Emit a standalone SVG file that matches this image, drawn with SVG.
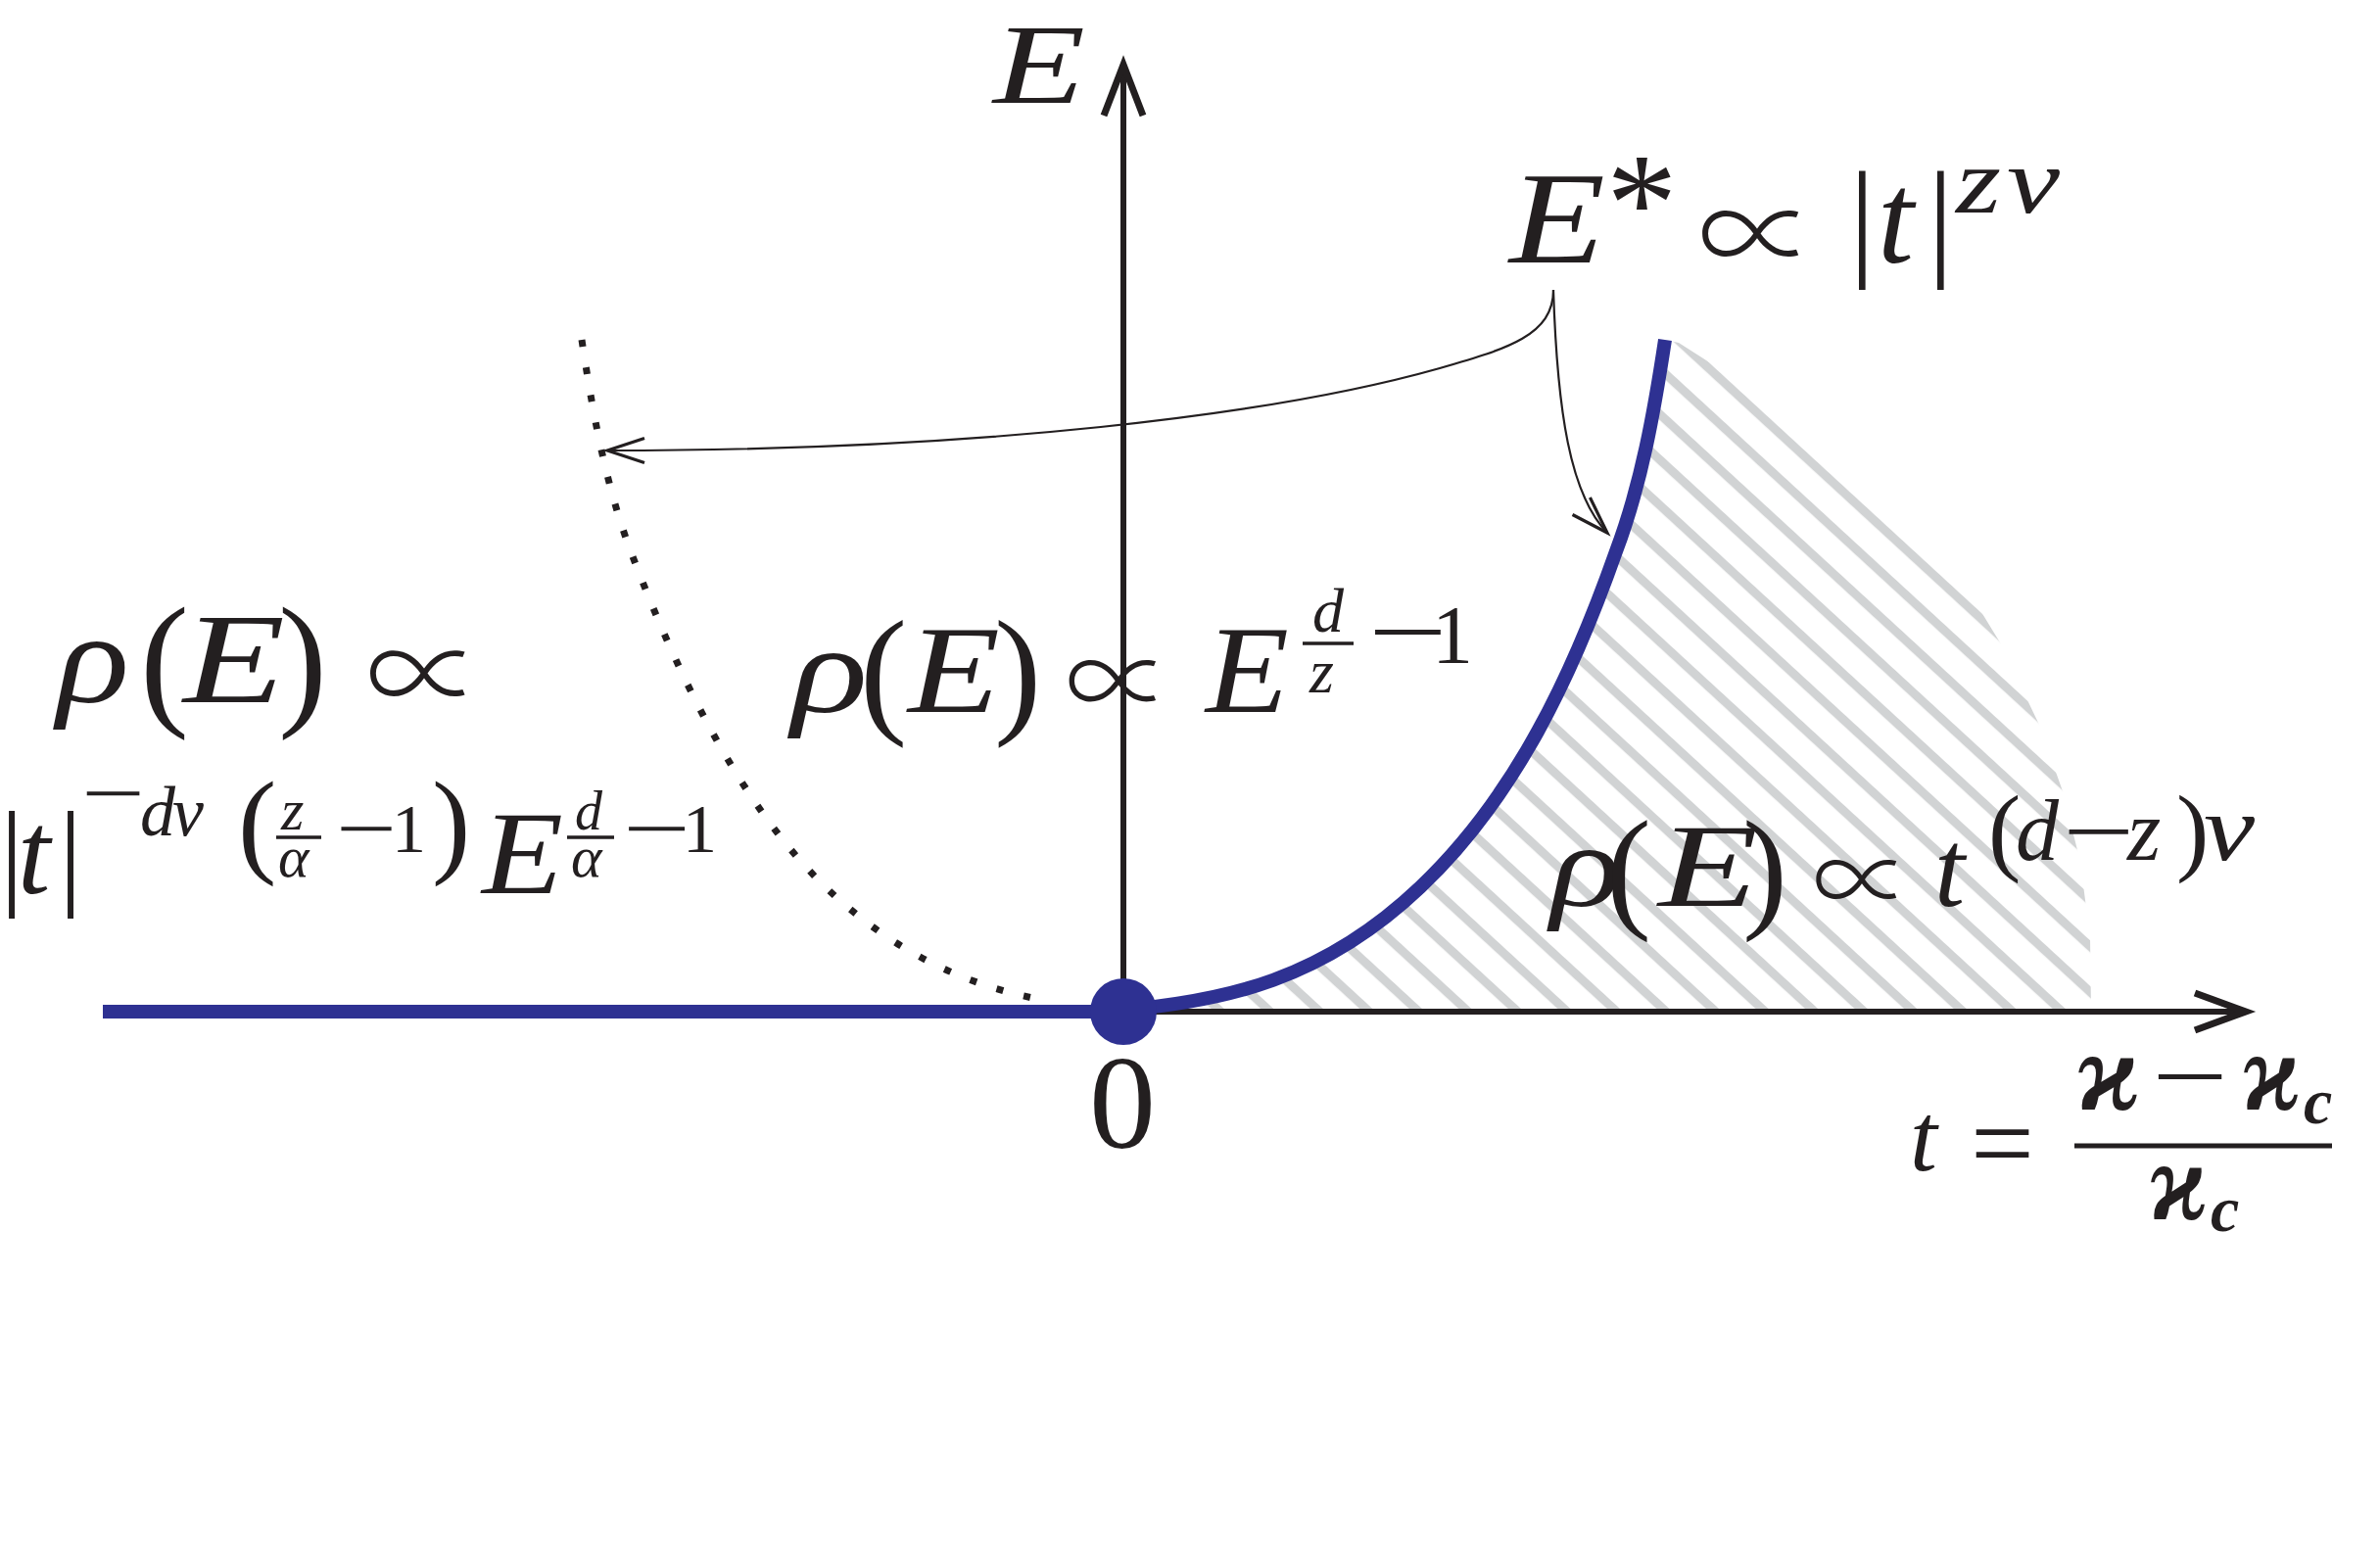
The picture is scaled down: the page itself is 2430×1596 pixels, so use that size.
<svg xmlns="http://www.w3.org/2000/svg" width="2430" height="1596" viewBox="0 0 2430 1596">
<style>
.m{font-family:"Liberation Serif","DejaVu Serif",serif;fill:#231f20}
.i{font-style:italic}
.b{font-weight:bold}
.p{font-family:"Noto Sans CJK SC","DejaVu Sans",sans-serif;font-weight:300;font-style:normal}
.ax{stroke:#231f20;stroke-width:6;fill:none}
.ah{stroke:#231f20;stroke-width:7;fill:none;stroke-linejoin:miter}
.blue{stroke:#2e3192;stroke-width:14;fill:none}
.con{stroke:#231f20;stroke-width:2.2;fill:none}
.fb{stroke:#231f20;stroke-width:3.5}
</style>
<defs>
<pattern id="hatch" patternUnits="userSpaceOnUse" width="40" height="34.2" patternTransform="rotate(42.6) translate(0,14.8)">
<rect x="0" y="0" width="40" height="9" fill="#d1d3d4"/>
</pattern>
<clipPath id="hclip">
<path d="M1150,1031 C1250,1022 1350,1001 1450,906 C1548,813 1606,688 1650,563 C1676,494 1689,420 1700,347 L1714,350 L1750,373 L2020,620 L2042,656 L2082,740 L2106,808 L2124,880 L2134,958 L2135,1031 Z"/>
</clipPath>
<marker id="arr" markerUnits="userSpaceOnUse" viewBox="-45 -18 50 36" refX="0" refY="0" markerWidth="50" markerHeight="36" orient="auto">
<path d="M-38,-12.5 L0,0 L-38,12.5" fill="none" stroke="#231f20" stroke-width="3.2"/>
</marker>
</defs>
<rect width="2430" height="1596" fill="#ffffff"/>

<g id="hatch-region">
<rect x="1100" y="300" width="1100" height="760" fill="url(#hatch)" clip-path="url(#hclip)"/>
</g>

<g id="axes">
<line class="ax" x1="1147" y1="1033" x2="1147" y2="66"/>
<polyline class="ah" points="1127,118 1147,66 1167,118"/>
<line class="ax" x1="1147" y1="1033" x2="2293" y2="1033"/>
<polyline class="ah" points="2241,1014 2293,1033 2241,1052"/>
</g>

<g id="dotted-curve">
<path d="M594,347 C605,420 618,494 644,563 C691,687 754,820 844,907 C919,978 994,1008 1069,1022" fill="none" stroke="#231f20" stroke-width="7" stroke-dasharray="7 21.5"/>
</g>

<g id="blue-line">
<line class="blue" x1="105" y1="1033" x2="1147" y2="1033"/>
</g>
<g id="blue-curve">
<path class="blue" d="M1150,1031 C1250,1022 1350,1001 1450,906 C1548,813 1606,688 1650,563 C1676,494 1689,420 1700,347"/>
</g>
<g id="origin-dot">
<circle cx="1147" cy="1033" r="34" fill="#2e3192"/>
</g>

<g id="connectors">
<path class="con" d="M1586,296 C1586,342 1540,356 1470,376 C1300,424 1000,460 620,460" marker-end="url(#arr)"/>
<path class="con" d="M1586,296 C1590,420 1603,505 1641,544" marker-end="url(#arr)"/>
</g>

<g id="label-E-axis">
<text class="m i" x="1014" y="105" font-size="117" textLength="94" lengthAdjust="spacingAndGlyphs">E</text>
</g>

<g id="label-origin">
<text class="m" x="1112" y="1172" font-size="136">0</text>
</g>

<g id="label-Estar">
<text class="m" font-size="133"><tspan class="i" x="1541" y="268" textLength="98" lengthAdjust="spacingAndGlyphs">E</tspan><tspan x="1640" y="256" font-size="145">*</tspan><tspan class="p" x="1794" y="283" font-size="121" text-anchor="middle">∝</tspan><tspan x="1888" y="268">|</tspan><tspan class="i" x="1917" y="268">t</tspan><tspan x="1968" y="268">|</tspan><tspan class="i" x="1997" y="217" font-size="95" textLength="46" lengthAdjust="spacingAndGlyphs">z</tspan><tspan class="i" x="2049" y="217" font-size="95" textLength="54" lengthAdjust="spacingAndGlyphs">ν</tspan></text>
</g>

<g id="label-rho-left">
<text class="m" font-size="131"><tspan class="i" x="58" y="717" textLength="74" lengthAdjust="spacingAndGlyphs">ρ</tspan><tspan x="143" y="724" font-size="150">(</tspan><tspan class="i" x="187" y="717" textLength="104" lengthAdjust="spacingAndGlyphs">E</tspan><tspan x="284" y="724" font-size="150">)</tspan><tspan class="p" x="433" y="732" font-size="119" text-anchor="middle">∝</tspan></text>
<text class="m" font-size="120"><tspan x="0" y="912">|</tspan><tspan class="i" x="18" y="912">t</tspan><tspan x="60" y="912">|</tspan><tspan x="83" y="837" font-size="80" textLength="65" lengthAdjust="spacingAndGlyphs">−</tspan><tspan class="i" x="143" y="853" font-size="72">d</tspan><tspan class="i" x="176" y="853" font-size="72">ν</tspan><tspan x="243" y="880" font-size="118">(</tspan><tspan class="i" x="287" y="847" font-size="60">z</tspan><tspan class="i" x="284" y="895" font-size="60">α</tspan><tspan x="343" y="873" font-size="80" textLength="62" lengthAdjust="spacingAndGlyphs">−</tspan><tspan x="400" y="870" font-size="70">1</tspan><tspan x="441" y="880" font-size="118">)</tspan><tspan class="i" x="492" y="912" textLength="83" lengthAdjust="spacingAndGlyphs">E</tspan><tspan class="i" x="587" y="847" font-size="56">d</tspan><tspan class="i" x="583" y="895" font-size="60">α</tspan><tspan x="636" y="873" font-size="80" textLength="69" lengthAdjust="spacingAndGlyphs">−</tspan><tspan x="697" y="870" font-size="70">1</tspan></text>
<line class="fb" x1="282" y1="855" x2="328" y2="855"/>
<line class="fb" x1="579" y1="855" x2="627" y2="855"/>
</g>

<g id="label-rho-middle">
<text class="m" font-size="127"><tspan class="i" x="808" y="727" textLength="78" lengthAdjust="spacingAndGlyphs">ρ</tspan><tspan x="878" y="733" font-size="145">(</tspan><tspan class="i" x="927" y="727" textLength="94" lengthAdjust="spacingAndGlyphs">E</tspan><tspan x="1015" y="733" font-size="145">)</tspan><tspan class="p" x="1142" y="736" font-size="109" text-anchor="middle">∝</tspan><tspan class="i" x="1231" y="727" textLength="85" lengthAdjust="spacingAndGlyphs">E</tspan><tspan class="i" x="1340" y="645" font-size="64">d</tspan><tspan class="i" x="1337" y="707" font-size="64">z</tspan><tspan x="1397" y="680" font-size="104" textLength="81" lengthAdjust="spacingAndGlyphs">−</tspan><tspan x="1462" y="677" font-size="84">1</tspan></text>
<line class="fb" x1="1330" y1="657" x2="1382" y2="657"/>
</g>

<g id="label-rho-right">
<text class="m" font-size="120"><tspan class="i" x="1583" y="925" textLength="72" lengthAdjust="spacingAndGlyphs">ρ</tspan><tspan x="1640" y="933" font-size="138">(</tspan><tspan class="i" x="1693" y="925" textLength="102" lengthAdjust="spacingAndGlyphs">E</tspan><tspan x="1779" y="933" font-size="138">)</tspan><tspan class="p" x="1901" y="936" font-size="101" text-anchor="middle">∝</tspan><tspan class="i" x="1975" y="925" font-size="112">t</tspan><tspan x="2030" y="881" font-size="100">(</tspan><tspan class="i" x="2058" y="878" font-size="88">d</tspan><tspan x="2106" y="881" font-size="96" textLength="73" lengthAdjust="spacingAndGlyphs">−</tspan><tspan class="i" x="2172" y="878" font-size="88">z</tspan><tspan x="2222" y="881" font-size="100">)</tspan><tspan class="i" x="2250" y="878" font-size="96" textLength="52" lengthAdjust="spacingAndGlyphs">ν</tspan></text>
</g>

<g id="label-t-def">
<text class="m" font-size="115"><tspan class="i" x="1950" y="1195" font-size="100">t</tspan><tspan x="2012" y="1206" textLength="65" lengthAdjust="spacingAndGlyphs">=</tspan><tspan class="i b" x="2121" y="1133">ϰ</tspan><tspan x="2197" y="1133" font-size="100" textLength="78" lengthAdjust="spacingAndGlyphs">−</tspan><tspan class="i b" x="2290" y="1133" textLength="60" lengthAdjust="spacingAndGlyphs">ϰ</tspan><tspan class="i b" x="2352" y="1147" font-size="66">c</tspan><tspan class="i b" x="2195" y="1245" textLength="60" lengthAdjust="spacingAndGlyphs">ϰ</tspan><tspan class="i b" x="2257" y="1257" font-size="66">c</tspan></text>
<line stroke="#231f20" stroke-width="5" x1="2118" y1="1170" x2="2381" y2="1170"/>
</g>
</svg>
